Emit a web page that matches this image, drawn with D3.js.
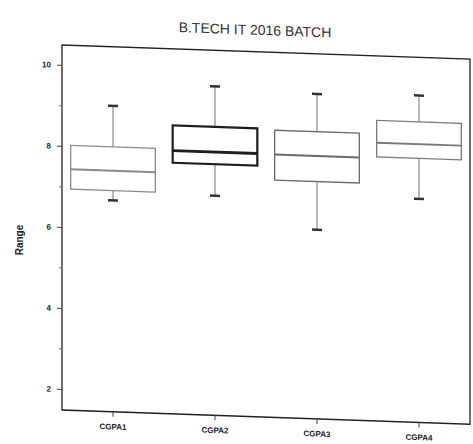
<!DOCTYPE html>
<html lang="en">
<head>
  <meta charset="utf-8" />
  <title>B.TECH IT 2016 BATCH</title>
  <style>
    body {
      margin: 0;
      background: #fff;
      font-family: "Liberation Sans", Arial, sans-serif;
    }
    .axis text {
      font-size: 8px;
      font-weight: 700;
      fill: #222;
    }
    .axis path.domain { display: none; }
  </style>
</head>
<body>
  <div id="graphic"></div>

  <script src="https://cdn.jsdelivr.net/npm/d3@7/dist/d3.min.js"></script>
  <script>
    // values (min, q1, median, q3, max)
    var categories = ["CGPA1", "CGPA2", "CGPA3", "CGPA4"];
    var whiskerLow = [6.7, 6.9, 6.15, 7.0];
    var q1Values = [6.94, 7.68, 7.34, 8.0];
    var medians = [7.43, 7.98, 7.97, 8.35];
    var q3Values = [8.02, 8.6, 8.57, 8.9];
    var whiskerHigh = [9.03, 9.6, 9.5, 9.55];
    var yTicks = [2, 4, 6, 8, 10];
    var yMinorTicks = [3, 5, 7, 9];
    var boxColours = ["#8a8a8a", "#1e1e1e", "#6a6a6a", "#7a7a7a"];
    var boxWidths = [1.3, 2.2, 1.3, 1.3];

    var width = 473, height = 444;
    var margin = { top: 45, right: 3, bottom: 34, left: 62 };
    var chart_width = width - margin.left - margin.right;
    var chart_height = height - margin.top - margin.bottom;

    var data = categories.map(function(c, i) {
      return {
        name: c,
        lo: whiskerLow[i], q1: q1Values[i], med: medians[i],
        q3: q3Values[i], hi: whiskerHigh[i],
        colour: boxColours[i], sw: boxWidths[i]
      };
    });

    var svg = d3.select("#graphic").append("svg")
      .attr("width", width)
      .attr("height", height);

    // the photographed page is slightly tilted, so the plot is sheared a little
    var g = svg.append("g")
      .attr("transform", "translate(" + margin.left + "," + margin.top + ") skewY(2)");

    var x = d3.scaleBand()
      .domain(categories)
      .range([0, chart_width])
      .paddingInner(0.17)
      .paddingOuter(0.085);

    var y = d3.scaleLinear()
      .domain([1.48, 10.49])
      .range([chart_height, 0]);

    // frame
    g.append("rect")
      .attr("x", 0).attr("y", 0)
      .attr("width", chart_width).attr("height", chart_height)
      .attr("fill", "none")
      .attr("stroke", "#222")
      .attr("stroke-width", 1.3);

    // y axis, major and minor ticks
    g.append("g")
      .attr("class", "y axis")
      .call(d3.axisLeft(y).tickValues(yTicks).tickSize(5).tickPadding(6).tickFormat(d3.format("d")))
      .selectAll("line").attr("stroke", "#444");

    g.append("g")
      .attr("class", "y axis minor")
      .call(d3.axisLeft(y).tickValues(yMinorTicks).tickSize(3).tickFormat(""))
      .selectAll("line").attr("stroke", "#666");

    // x axis
    var xAxisG = g.append("g")
      .attr("class", "x axis")
      .attr("transform", "translate(0," + chart_height + ")")
      .call(d3.axisBottom(x).tickSize(5).tickPadding(7));
    xAxisG.selectAll("line").attr("stroke", "#444");
    xAxisG.selectAll("text").attr("font-size", "8.5px");

    // boxes
    var box = g.selectAll("g.box")
      .data(data)
      .enter().append("g")
      .attr("class", "box")
      .attr("transform", function(d) { return "translate(" + x(d.name) + ",0)"; });

    var bw = x.bandwidth();

    box.append("line")
      .attr("x1", bw / 2).attr("x2", bw / 2)
      .attr("y1", function(d) { return y(d.hi); })
      .attr("y2", function(d) { return y(d.q3); })
      .attr("stroke", "#8a8a8a").attr("stroke-width", 1.2);

    box.append("line")
      .attr("x1", bw / 2).attr("x2", bw / 2)
      .attr("y1", function(d) { return y(d.q1); })
      .attr("y2", function(d) { return y(d.lo); })
      .attr("stroke", "#8a8a8a").attr("stroke-width", 1.2);

    // whisker caps
    ["hi", "lo"].forEach(function(k) {
      box.append("line")
        .attr("x1", bw / 2 - 5).attr("x2", bw / 2 + 5)
        .attr("y1", function(d) { return y(d[k]); })
        .attr("y2", function(d) { return y(d[k]); })
        .attr("stroke", "#333").attr("stroke-width", 2.5);
    });

    box.append("rect")
      .attr("x", 0)
      .attr("width", bw)
      .attr("y", function(d) { return y(d.q3); })
      .attr("height", function(d) { return y(d.q1) - y(d.q3); })
      .attr("fill", "#fff")
      .attr("stroke", function(d) { return d.colour; })
      .attr("stroke-width", function(d) { return d.sw; });

    box.append("line")
      .attr("x1", 0).attr("x2", bw)
      .attr("y1", function(d) { return y(d.med); })
      .attr("y2", function(d) { return y(d.med); })
      .attr("stroke", function(d) { return d.colour; })
      .attr("stroke-width", function(d) { return d.sw + 0.6; });

    // title
    g.append("text")
      .attr("x", 193)
      .attr("y", -17)
      .attr("text-anchor", "middle")
      .attr("font-size", "14px")
      .attr("fill", "#333")
      .text("B.TECH IT 2016 BATCH");

    // y axis title
    svg.append("text")
      .attr("transform", "translate(23,240) rotate(-90)")
      .attr("text-anchor", "middle")
      .attr("font-size", "10px")
      .attr("font-weight", 700)
      .attr("fill", "#222")
      .text("Range");
  </script>
</body>
</html>
